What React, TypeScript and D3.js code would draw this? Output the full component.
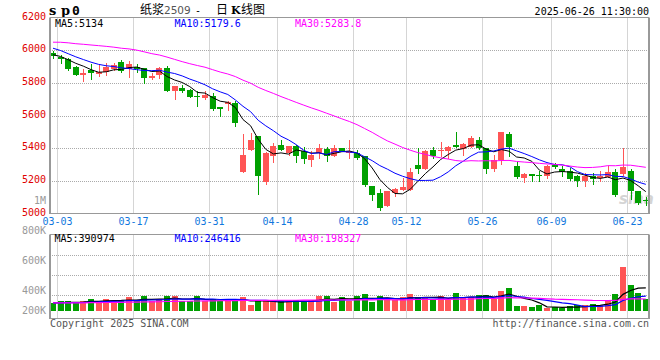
import React from 'react';
import * as d3 from 'd3';

// ---------- DATA ----------
const dates = [
  '03-03','03-04','03-05','03-06','03-07','03-10','03-11','03-12','03-13','03-14',
  '03-17','03-18','03-19','03-20','03-21','03-24','03-25','03-26','03-27','03-28',
  '03-31','04-01','04-02','04-03','04-07','04-08','04-09','04-10','04-11',
  '04-14','04-15','04-16','04-17','04-18','04-21','04-22','04-23','04-24','04-25',
  '04-28','04-29','04-30','05-06','05-07','05-08','05-09',
  '05-12','05-13','05-14','05-15','05-16','05-19','05-20','05-21','05-22','05-23',
  '05-26','05-27','05-28','05-29','05-30','06-03','06-04','06-05','06-06',
  '06-09','06-10','06-11','06-12','06-13','06-16','06-17','06-18','06-19','06-20',
  '06-23','06-24','06-25','06-26'
];

const openP = [
  5982,5961,5945,5900,5851,5880,5856,5866,5886,5925,
  5886,5900,5890,5829,5849,5890,5747,5771,5757,5722,
  5706,5720,5649,5670,5676,5257,5386,5476,5190,
  5353,5420,5370,5414,5380,5325,5373,5396,5349,5400,
  5370,5370,5349,5171,5125,5043,5125,
  5145,5145,5298,5274,5390,5384,5380,5420,5392,5410,
  5451,5400,5272,5325,5488,5292,5217,5241,5233,
  5227,5298,5274,5261,5231,5196,5227,5217,5223,5253,
  5243,5261,5139,5080
];
const highP = [
  5992,5971,5950,5905,5884,5916,5910,5921,5921,5941,
  5935,5915,5892,5860,5896,5904,5782,5788,5761,5747,
  5747,5737,5655,5690,5690,5488,5492,5476,5376,
  5431,5451,5414,5420,5406,5380,5427,5406,5420,5402,
  5447,5390,5353,5171,5149,5139,5159,
  5217,5278,5400,5390,5406,5435,5414,5496,5431,5476,
  5471,5400,5359,5502,5496,5318,5251,5241,5263,
  5298,5308,5288,5278,5237,5245,5247,5261,5288,5274,
  5404,5274,5139,5098
];
const lowP = [
  5951,5921,5880,5845,5814,5824,5839,5851,5880,5869,
  5833,5866,5798,5823,5829,5747,5702,5741,5712,5661,
  5702,5635,5594,5635,5533,5257,5386,5121,5182,
  5318,5390,5359,5315,5312,5288,5339,5324,5349,5382,
  5339,5333,5169,5084,5023,5043,5110,
  5145,5145,5251,5274,5337,5353,5339,5410,5361,5410,
  5394,5251,5263,5304,5353,5217,5190,5200,5196,
  5217,5278,5227,5204,5171,5171,5182,5202,5223,5110,
  5237,5090,5057,5049
];
const closeP = [
  5965,5947,5886,5849,5863,5860,5866,5900,5910,5874,
  5916,5884,5829,5843,5890,5747,5778,5753,5716,5712,
  5727,5641,5641,5682,5553,5359,5451,5227,5373,
  5414,5390,5414,5353,5333,5359,5400,5349,5400,5384,
  5380,5339,5176,5114,5033,5139,5151,
  5165,5253,5274,5380,5355,5390,5406,5410,5427,5461,
  5400,5272,5329,5496,5410,5223,5241,5227,5227,
  5292,5282,5257,5210,5196,5231,5210,5227,5253,5114,
  5282,5135,5064,5074
];
const volume = [
  134000,163000,163000,134000,163000,197000,163000,197000,163000,180000,
  231000,163000,248000,163000,197000,248000,248000,163000,163000,248000,
  163000,197000,163000,180000,197000,231000,95000,163000,163000,
  163000,163000,146000,180000,163000,180000,248000,248000,146000,231000,
  163000,248000,282000,146000,248000,197000,180000,
  231000,282000,231000,231000,180000,248000,180000,299000,231000,231000,
  265000,265000,197000,333000,384000,78000,78000,61000,95000,
  44000,61000,49000,78000,95000,95000,112000,95000,180000,282000,
  746000,435000,304000,197000
];
// sessions before 03-03 (not drawn, used by the moving averages)
const priorClose = [
  5960,5990,6010,5970,5990,5985,6030,6060,6070,6040,
  6100,6150,6180,6140,6125,6200,6170,6090,6050,6035,
  6090,6080,6040,6030,6020,6000,5985,5960,5950
];
const priorVolume = [
  130000,145000,120000,150000,135000,140000,125000,150000,140000,130000,
  145000,140000,135000,120000,140000,150000,130000,145000,140000,135000,
  140000,125000,140000,135000,130000,140000,135000,140000,145000
];

const priceTicks = [6200, 6000, 5800, 5600, 5400, 5200, 5000];
const dateTicks = ['03-03','03-17','03-31','04-14','04-28','05-12','05-26','06-09','06-23'];
const volTickLabels = ['1M', '800K', '600K', '400K', '200K'];
const volTickValues = [1000000, 800000, 600000, 400000, 200000];
const maPeriods = [5, 10, 30];
const maColors = ['#000000', '#0000FF', '#FF00FF'];
const priceMaLabels = ['MA5:5134', 'MA10:5179.6', 'MA30:5283.8'];
const volMaLabels = ['MA5:390974', 'MA10:246416', 'MA30:198327'];

// ---------- HELPERS ----------
function movingAverage(prior: number[], vals: number[], n: number): number[] {
  const all = prior.concat(vals);
  const off = prior.length;
  return vals.map((_, i) => {
    const s = all.slice(off + i - n + 1, off + i + 1);
    return d3.mean(s) as number;
  });
}

const MONO = "'DejaVu Sans Mono', monospace";
const CJK = "'Noto Sans CJK SC', sans-serif";
const RED = '#FF5555';
const GREEN = '#00A000';
const GRID = '#aaaaaa';
const BORDER = '#999999';

export default function App() {
  const W = 660, H = 360;
  const left = 50, right = 649;
  const mainTop = 17.5, mainBottom = 213.5;
  const volTop = 234.5, volBottom = 318.5;
  const volBase = 311;

  const n = dates.length;
  const x = d3.scaleLinear().domain([0, n - 1]).range([53, 645.8]);
  const step = x(1) - x(0);
  const yP = d3.scaleLinear().domain([5000, 6200]).range([mainBottom, mainTop]);
  const yV = d3.scaleLinear().domain([0, 1000000]).range([volBase, volBase - 1000000 / 17000]);
  const yVLabel = d3.scaleLinear().domain([1000000, 400000]).range([204, 294]);

  const priceMA = maPeriods.map(p => movingAverage(priorClose, closeP, p));
  const volMA = maPeriods.map(p => movingAverage(priorVolume, volume, p));

  const lineP = d3.line<number>().x((_, i) => x(i)).y(v => yP(v));
  const lineV = d3.line<number>().x((_, i) => x(i)).y(v => yV(v));

  const tickIdx = dateTicks.map(t => dates.indexOf(t));
  const gx = (i: number) => Math.round(x(i) + step / 2) + 0.5;

  const hGridMain = priceTicks.filter(p => p !== 6200 && p !== 5000);
  const volGridY = [255.5, 275.5, 295.5];

  return (
    <svg width={W} height={H} style={{ position: 'absolute', left: 0, top: 0, background: '#fff', display: 'block' }}
      xmlns="http://www.w3.org/2000/svg">
      <rect x={0} y={0} width={W} height={H} fill="#fff" />

      {/* header */}
      <text y={15} fontWeight="bold" fontSize={13} fill="#000">
        <tspan x={49} fontFamily="'DejaVu Serif', serif">s</tspan>
        <tspan x={61} fontFamily="'DejaVu Serif', serif">p</tspan>
        <tspan x={72} fontFamily={MONO}>0</tspan>
      </text>
      <text y={14} fill="#000">
        <tspan x={140} fontFamily={CJK} fontSize={12}>纸浆</tspan>
        <tspan x={164} fontFamily="'DejaVu Sans', sans-serif" fontSize={10.5} fill="#555">2509</tspan>
        <tspan x={195} fontFamily={MONO} fontSize={10}>-</tspan>
        <tspan x={216} fontFamily={CJK} fontSize={12}>日</tspan>
        <tspan x={231} fontFamily="'DejaVu Serif', serif" fontSize={11} fontWeight="bold">K</tspan>
        <tspan x={241} fontFamily={CJK} fontSize={12}>线图</tspan>
      </text>
      <text x={649} y={15} textAnchor="end" fontFamily={MONO} fontSize={10} fill="#000">2025-06-26 11:30:00</text>

      {/* main panel grid */}
      {hGridMain.map(p => (
        <line key={'hg' + p} x1={left} x2={right} y1={Math.round(yP(p)) + 0.5} y2={Math.round(yP(p)) + 0.5}
          stroke={GRID} strokeDasharray="1,1" />
      ))}
      {tickIdx.map(i => (
        <g key={'vg' + i}>
          <line x1={gx(i)} x2={gx(i)} y1={mainTop} y2={mainBottom} stroke={GRID} strokeDasharray="1,1" />
          <line x1={gx(i)} x2={gx(i)} y1={volTop} y2={volBottom} stroke={GRID} strokeDasharray="1,1" />
        </g>
      ))}

      {/* watermark */}
      <text x={619} y={204} fontFamily="'DejaVu Sans', sans-serif" fontStyle="italic" fontWeight="bold"
        fontSize={15} fill="#d4d4d4">sina</text>

      {/* candles */}
      {dates.map((d, i) => {
        const up = closeP[i] >= openP[i];
        const c = up ? RED : GREEN;
        const l = Math.round(x(i) - 3);
        const yTop = Math.round(yP(Math.max(openP[i], closeP[i])));
        const yBot = Math.round(yP(Math.min(openP[i], closeP[i])));
        return (
          <g key={'c' + d}>
            <line x1={l + 3.5} x2={l + 3.5} y1={Math.round(yP(highP[i]))} y2={Math.round(yP(lowP[i])) + 1}
              stroke={c} strokeWidth={1} />
            <rect x={l} y={yTop} width={6} height={Math.max(1, yBot - yTop)} fill={c} />
          </g>
        );
      })}

      {/* price MAs */}
      {priceMA.map((ma, k) => (
        <path key={'pma' + k} d={lineP(ma) || ''} fill="none" stroke={maColors[k]} strokeWidth={1} />
      ))}

      {/* main border */}
      <rect x={50.5} y={mainTop} width={598} height={mainBottom - mainTop} fill="none" stroke={BORDER} />
      <line x1={49.5} x2={49.5} y1={mainTop} y2={mainBottom + 0.5} stroke={BORDER} />
      <line x1={649.5} x2={649.5} y1={mainTop} y2={mainBottom + 0.5} stroke={BORDER} />

      {/* MA labels main */}
      {priceMaLabels.map((t, k) => (
        <text key={'pl' + k} x={[55, 174.5, 295][k]} y={27} fontFamily={MONO} fontSize={10} fill={maColors[k]}>{t}</text>
      ))}

      {/* price axis labels */}
      {priceTicks.map(p => (
        <text key={'pt' + p} x={46} y={Math.round(yP(p)) + 2} textAnchor="end" fontFamily={MONO} fontSize={10} fill="#E00000">{p}</text>
      ))}

      {/* date labels */}
      {tickIdx.map((i, k) => (
        <text key={'dt' + k} x={gx(i)} y={225} textAnchor="middle" fontFamily={MONO} fontSize={10} fill="#1177DD">{dateTicks[k]}</text>
      ))}

      {/* volume grid */}
      {volGridY.map(y => (
        <line key={'vgy' + y} x1={left} x2={right} y1={y} y2={y} stroke={GRID} strokeDasharray="1,1" />
      ))}

      {/* volume bars */}
      {dates.map((d, i) => {
        const up = closeP[i] >= openP[i];
        const l = Math.round(x(i) - 3);
        const yt = Math.round(yV(volume[i]));
        return <rect key={'v' + d} x={l} y={yt} width={6} height={volBase - yt} fill={up ? RED : GREEN} />;
      })}

      {/* volume MAs */}
      {volMA.map((ma, k) => (
        <path key={'vma' + k} d={lineV(ma) || ''} fill="none" stroke={maColors[k]} strokeWidth={1.2} />
      ))}

      {/* volume border */}
      <rect x={50.5} y={volTop} width={598} height={volBottom - volTop} fill="none" stroke={BORDER} />
      <line x1={49.5} x2={49.5} y1={volTop} y2={volBottom + 0.5} stroke={BORDER} />
      <line x1={649.5} x2={649.5} y1={volTop} y2={volBottom + 0.5} stroke={BORDER} />

      {volMaLabels.map((t, k) => (
        <text key={'vl' + k} x={[54.5, 174.5, 295][k]} y={242} fontFamily={MONO} fontSize={10} fill={maColors[k]}>{t}</text>
      ))}

      {/* volume axis labels */}
      {volTickLabels.map((t, k) => (
        <text key={'vt' + k} x={46} y={Math.min(yVLabel(volTickValues[k]), 313.5)} textAnchor="end"
          fontFamily={MONO} fontSize={10} fill="#999999">{t}</text>
      ))}

      {/* footer */}
      <text x={50} y={327} fontFamily={MONO} fontSize={10} fill="#555">Copyright 2025 SINA.COM</text>
      <text x={649} y={327} textAnchor="end" fontFamily={MONO} fontSize={10} fill="#555">http://finance.sina.com.cn</text>
    </svg>
  );
}
